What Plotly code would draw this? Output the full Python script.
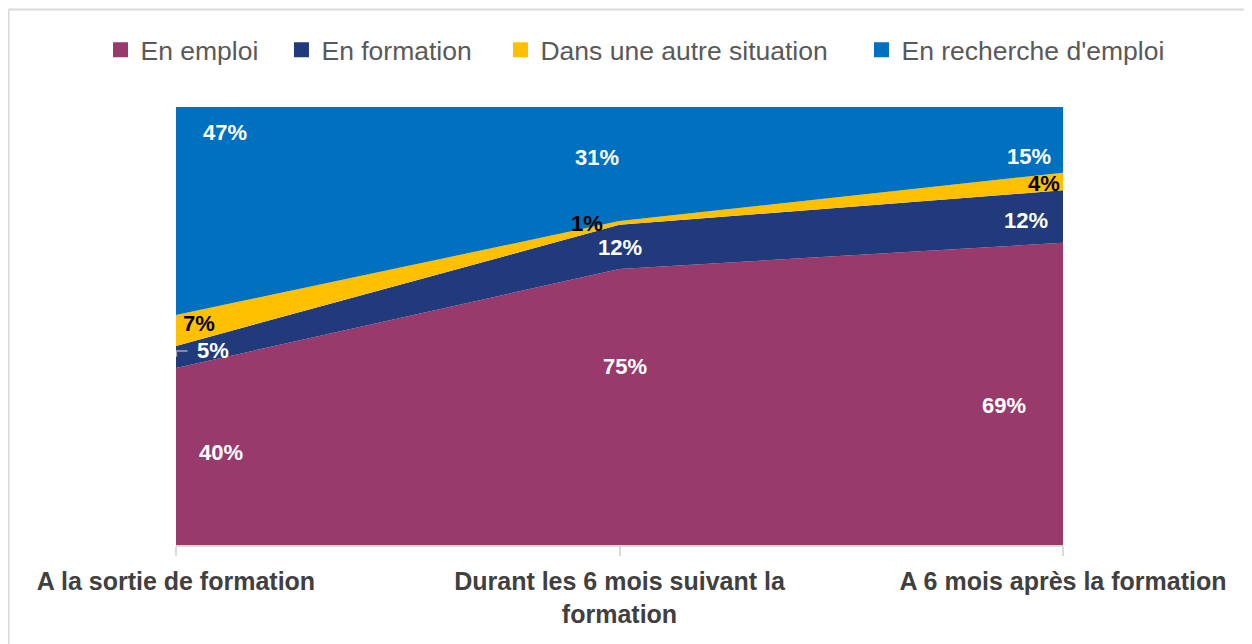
import plotly.graph_objects as go

# ---- data ----
categories = ["A la sortie de formation",
              "Durant les 6 mois suivant la<br>formation",
              "A 6 mois après la formation"]
series_names = ["En emploi", "En formation", "Dans une autre situation", "En recherche d'emploi"]
en_emploi = [40, 75, 69]
en_formation = [5, 12, 12]
autre_situation = [7, 1, 4]
en_recherche = [47, 31, 15]
series_values = [en_emploi, en_formation, autre_situation, en_recherche]

# ---- styles ----
colors = ["#983A6B", "#203A7B", "#FFC000", "#0070C0"]
label_colors = ["white", "white", "black", "white"]
# pixel offsets of value labels relative to band centre (per series, per category)
label_xshift = [[45, 5, -59], [37, 0, -37], [23, -33, -19], [49, -23, -34]]
label_yshift = [[4, 40, -12], [6, -1, -4], [7, -1, -2], [78, 7, -17]]
legend_ids = ["legend", "legend2", "legend3", "legend4"]
legend_x = [-0.0851, 0.1189, 0.3658, 0.7728]

x_idx = list(range(len(categories)))
fig = go.Figure()

for name, vals, col in zip(series_names, series_values, colors):
    fig.add_trace(go.Scatter(
        x=x_idx, y=vals, name=name, mode="none", stackgroup="one",
        groupnorm="percent", fillcolor=col, showlegend=False,
        hoverinfo="skip"))

for name, col, lid in zip(series_names, colors, legend_ids):
    fig.add_trace(go.Scatter(
        x=[None], y=[None], name=name, mode="markers", legend=lid,
        marker=dict(symbol="square", size=15, color=col), showlegend=True))

# value labels, positioned from normalised data
totals = [sum(s[i] for s in series_values) for i in x_idx]
for i in x_idx:
    base = 0.0
    for k, vals in enumerate(series_values):
        h = vals[i] / totals[i] * 100
        mid = base + h / 2
        base += h
        fig.add_annotation(
            x=i, y=mid, text=f"<b>{vals[i]}%</b>", showarrow=False,
            xshift=label_xshift[k][i], yshift=label_yshift[k][i],
            font=dict(family="Liberation Sans, Arial, sans-serif", size=22,
                      color=label_colors[k]))

# small leader line for the 5% label
fig.add_shape(type="line", xref="x", yref="y", x0=0, x1=0.026, y0=44.3, y1=44.3,
              line=dict(color="#A6A6A6", width=1.5))
fig.add_shape(type="line", xref="x", yref="y", x0=0.001, x1=0.001, y0=43.0, y1=44.3,
              line=dict(color="#A6A6A6", width=1.5))

# chart border (left and top)
fig.add_shape(type="line", xref="paper", yref="paper", x0=-0.1888, x1=1.3,
              y0=1.2226, y1=1.2226, line=dict(color="#D9D9D9", width=2))
fig.add_shape(type="line", xref="paper", yref="paper", x0=-0.1888, x1=-0.1888,
              y0=1.2226, y1=-0.3, line=dict(color="#D9D9D9", width=2))

legend_style = dict(orientation="h", xanchor="left", y=1.13, yanchor="middle",
                    font=dict(size=26.5, color="#595959"), itemwidth=30,
                    bgcolor="rgba(0,0,0,0)")
legend_layout = {lid: dict(legend_style, x=lx) for lid, lx in zip(legend_ids, legend_x)}

fig.update_layout(
    width=1244, height=636,
    margin=dict(l=168, r=189, t=99, b=99, autoexpand=False),
    paper_bgcolor="white", plot_bgcolor="white",
    font=dict(family="Liberation Sans, Arial, sans-serif"),
    xaxis=dict(range=[0, 2], tickmode="array", tickvals=x_idx,
               ticktext=[f"<b>{c}</b>" for c in categories],
               showgrid=False, zeroline=False, showline=True,
               linecolor="#D9D9D9", linewidth=2,
               ticks="outside", ticklen=9, tickwidth=2, tickcolor="#D9D9D9",
               ticklabelstandoff=4, tickangle=0,
               tickfont=dict(size=25, color="#404040")),
    yaxis=dict(range=[0, 100], showgrid=False, zeroline=False,
               showticklabels=False, showline=False),
    **legend_layout,
)

fig.write_html("out.html")
